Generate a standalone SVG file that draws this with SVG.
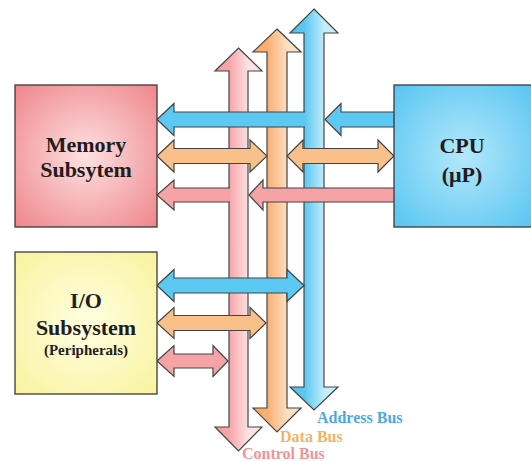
<svg xmlns="http://www.w3.org/2000/svg" width="531" height="461" viewBox="0 0 531 461">
<defs>
<radialGradient id="gMem" cx="50%" cy="50%" r="70%"><stop offset="0" stop-color="#fde1e2"/><stop offset="1" stop-color="#ef868b"/></radialGradient>
<radialGradient id="gCpu" cx="50%" cy="50%" r="70%"><stop offset="0" stop-color="#b4e8fb"/><stop offset="1" stop-color="#58c5f1"/></radialGradient>
<radialGradient id="gIo" cx="50%" cy="50%" r="70%"><stop offset="0" stop-color="#ffffe2"/><stop offset="1" stop-color="#f9f29e"/></radialGradient>
<linearGradient id="gPinkBus" x1="0" y1="0" x2="1" y2="0"><stop offset="0" stop-color="#f59ea3"/><stop offset="0.3" stop-color="#f6a5aa"/><stop offset="0.72" stop-color="#fde3e4"/><stop offset="1" stop-color="#fde3e4"/></linearGradient>
<linearGradient id="gOrBus" x1="0" y1="0" x2="1" y2="0"><stop offset="0" stop-color="#f7a862"/><stop offset="0.3" stop-color="#f8b072"/><stop offset="0.72" stop-color="#fde0c2"/><stop offset="1" stop-color="#fde0c2"/></linearGradient>
<linearGradient id="gBlBus" x1="0" y1="0" x2="1" y2="0"><stop offset="0" stop-color="#4fc2ef"/><stop offset="0.3" stop-color="#5ac7f1"/><stop offset="0.72" stop-color="#c6edfb"/><stop offset="1" stop-color="#c6edfb"/></linearGradient>
</defs>
<style>
.box{stroke:#3a3a3a;stroke-width:1.3}
.ar{stroke:#444;stroke-width:1.2;stroke-linejoin:miter}
.bl{fill:#5cc9f2}
.or{fill:#f9c08a}
.pk{fill:#f5a3a7}
.t{font-family:"Liberation Serif","Times New Roman",serif;font-weight:bold;fill:#231c1c;text-anchor:middle}
.lbl{font-family:"Liberation Serif","Times New Roman",serif;font-weight:bold;font-size:16px}
</style>
<g id="connectors">
<polygon id="control-bus" class="ar" fill="url(#gPinkBus)" points="238.5,48 262,71 248,71 248,427 262,427 238.5,451 215,427 229,427 229,71 215,71"/>
<polygon id="data-bus" class="ar" fill="url(#gOrBus)" points="277,29 301,52 287,52 287,408 301,408 277,432 253,408 267,408 267,52 253,52"/>
<polygon id="address-bus" class="ar" fill="url(#gBlBus)" points="314,9 338,33 324,33 324,387 338,387 314,410 290,387 304,387 304,33 290,33"/>
<path class="ar bl" d="M305,112 L174,112 L174,103.5 L157,119.5 L174,135.5 L174,127 L305,127"/>
<path class="ar bl" d="M394,112 L341,112 L341,103.5 L325,119.5 L341,135.5 L341,127 L394,127"/>
<polygon class="ar or" points="157,156 174,140 174,148.5 250,148.5 250,140 267,156 250,172 250,163.5 174,163.5 174,172"/>
<polygon class="ar or" points="287,156 303,140 303,148.5 378,148.5 378,140 394,156 378,172 378,163.5 303,163.5 303,172"/>
<path class="ar pk" d="M230,188 L174,188 L174,180 L157,195 L174,210 L174,202 L230,202"/>
<path class="ar pk" d="M394,188 L263,188 L263,180 L249,195 L263,210 L263,202 L394,202"/>
<polygon class="ar bl" points="157,285.5 174,269.5 174,278 287,278 287,269.5 304,285.5 287,301.5 287,293 174,293 174,301.5"/>
<polygon class="ar or" points="157,323 174,307.5 174,315.5 250,315.5 250,307.5 266,323 250,338.5 250,330.5 174,330.5 174,338.5"/>
<polygon class="ar pk" points="157,361 174,345.5 174,354 213,354 213,345.5 228,361 213,376.5 213,368 174,368 174,376.5"/>
</g>
<g id="memory">
<rect class="box" x="15" y="85" width="142" height="142" fill="url(#gMem)"/>
<text class="t" x="86" y="152" font-size="22">Memory</text>
<text class="t" x="86" y="177" font-size="22">Subsytem</text>
</g>
<g id="cpu">
<rect class="box" x="394" y="85" width="140" height="142" fill="url(#gCpu)"/>
<text class="t" x="462" y="153" font-size="22">CPU</text>
<text class="t" x="462" y="182" font-size="22">(μP)</text>
</g>
<g id="io">
<rect class="box" x="15" y="252" width="142" height="142" fill="url(#gIo)"/>
<text class="t" x="86" y="308" font-size="22">I/O</text>
<text class="t" x="86" y="335" font-size="22">Subsystem</text>
<text class="t" x="86" y="355" font-size="15">(Peripherals)</text>
</g>
<g id="labels">
<text class="lbl" x="317" y="423" fill="#4ea9e2">Address Bus</text>
<text class="lbl" x="280" y="442" fill="#f0b466">Data Bus</text>
<text class="lbl" x="242" y="459" fill="#ef9597">Control Bus</text>
</g>
</svg>
